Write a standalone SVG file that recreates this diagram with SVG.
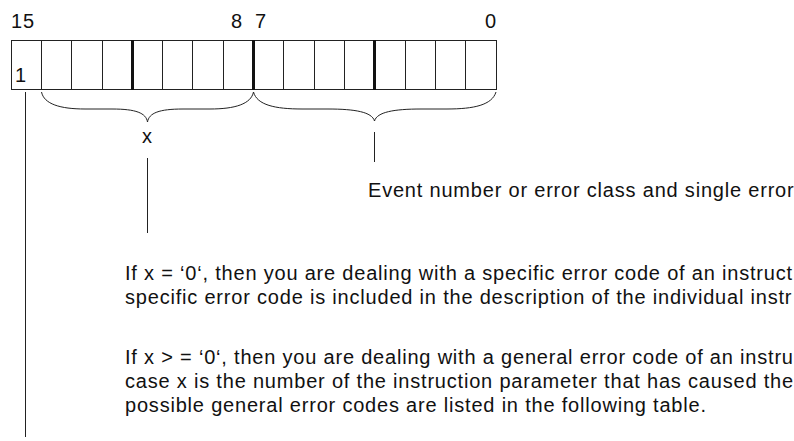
<svg xmlns="http://www.w3.org/2000/svg" width="794" height="441" viewBox="0 0 794 441">
  <style>
    text { font-family: "Liberation Sans", Arial, sans-serif; font-size: 20px; fill: #111; letter-spacing: 0.8px; }
    .cell { fill: none; stroke: #222; stroke-width: 1; }
    .sep { stroke: #222; stroke-width: 1; }
    .thick { stroke: #111; stroke-width: 3; }
    .conn { fill: none; stroke: #222; stroke-width: 1; }
  </style>
  <rect width="794" height="441" fill="#fff"/>
  <g id="bit-labels">
    <text x="11" y="28">15</text>
    <text x="231" y="28">8</text>
    <text x="255" y="28">7</text>
    <text x="485" y="28">0</text>
  </g>
  <g id="register">
    <rect class="cell" x="11.5" y="40.5" width="485" height="49"/>
    <line class="sep" x1="41.5" y1="40" x2="41.5" y2="90"/>
    <line class="sep" x1="71.5" y1="40" x2="71.5" y2="90"/>
    <line class="sep" x1="102.5" y1="40" x2="102.5" y2="90"/>
    <line class="thick" x1="132.5" y1="40" x2="132.5" y2="90"/>
    <line class="sep" x1="162.5" y1="40" x2="162.5" y2="90"/>
    <line class="sep" x1="192.5" y1="40" x2="192.5" y2="90"/>
    <line class="sep" x1="223.5" y1="40" x2="223.5" y2="90"/>
    <line class="thick" x1="253.5" y1="40" x2="253.5" y2="90"/>
    <line class="sep" x1="283.5" y1="40" x2="283.5" y2="90"/>
    <line class="sep" x1="314.5" y1="40" x2="314.5" y2="90"/>
    <line class="sep" x1="344.5" y1="40" x2="344.5" y2="90"/>
    <line class="thick" x1="374.5" y1="40" x2="374.5" y2="90"/>
    <line class="sep" x1="405.5" y1="40" x2="405.5" y2="90"/>
    <line class="sep" x1="435.5" y1="40" x2="435.5" y2="90"/>
    <line class="sep" x1="465.5" y1="40" x2="465.5" y2="90"/>
    <text x="15" y="82">1</text>
  </g>
  <g id="connectors">
    <path class="conn" d="M41.5,92 C44,104 60,109 85,109 L112,109 C136,109 146,113 147.5,122 C149,113 159,109 183,109 L210,109 C235,109 251,104 253.5,92"/>
    <path class="conn" d="M253.5,92 C257,105 275,109 302,109 L328,109 C355,109 372,112 374.5,121 C377,112 394,109 421,109 L447,109 C474,109 492,105 496,92"/>
    <line class="conn" x1="374.5" y1="132" x2="374.5" y2="162"/>
    <line class="conn" x1="147.5" y1="158" x2="147.5" y2="233"/>
    <line class="conn" x1="25.5" y1="92" x2="25.5" y2="437"/>
  </g>
  <g id="label-x">
    <text x="142" y="143">x</text>
  </g>
  <g id="label-event">
    <text x="368" y="197">Event number or error class and single error</text>
  </g>
  <g id="note-specific">
    <text x="125" y="280">If x = ‘0‘, then you are dealing with a specific error code of an instruct</text>
    <text x="125" y="304">specific error code is included in the description of the individual instr</text>
  </g>
  <g id="note-general">
    <text x="125" y="364">If x &gt; = ‘0‘, then you are dealing with a general error code of an instru</text>
    <text x="125" y="388">case x is the number of the instruction parameter that has caused the</text>
    <text x="125" y="412">possible general error codes are listed in the following table.</text>
  </g>
</svg>
